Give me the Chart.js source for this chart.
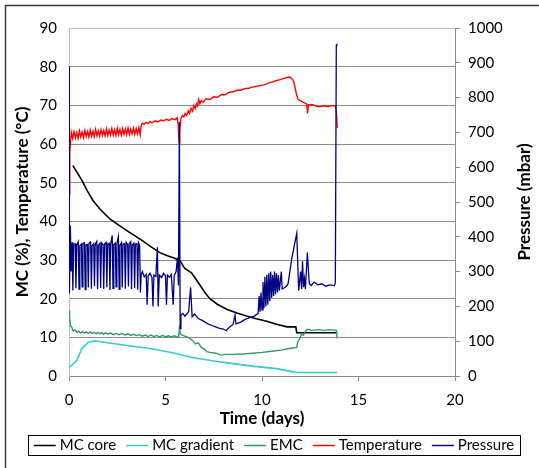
<!DOCTYPE html>
<html>
<head>
<meta charset="utf-8">
<script src="https://cdn.jsdelivr.net/npm/chart.js@4.4.0/dist/chart.umd.min.js"></script>
<style>
  html, body { margin: 0; padding: 0; background: #fff; overflow: hidden; }
  #wrap { position: relative; width: 539px; height: 468px; }
</style>
</head>
<body>
<div id="wrap"><canvas id="chart" width="539" height="468"></canvas></div>
<script>
// [day, value] pairs, read per series
const mcCore = [[0.2,54.4],[0.45,52.4],[0.67,50.6],[0.95,47.9],[1.24,45.4],[1.6,43.2],[2.1,40.7],[2.5,39.3],
  [3.0,37.6],[3.4,36.3],[3.8,35.0],[4.2,33.6],[4.7,31.9],[5.1,31.1],[5.4,30.6],[5.74,29.9],[5.9,28.6],
  [6.0,27.8],[6.25,27.0],[6.35,26.7],[6.55,25.2],[6.8,23.4],[7.05,21.5],[7.3,20.0],[7.7,18.5],[8.2,17.2],
  [8.7,16.3],[9.2,15.5],[9.7,14.8],[10.2,14.2],[10.75,13.4],[11.3,12.7],[11.75,12.7],[11.8,11.2],
  [13.0,11.2],[13.9,11.2]];

const mcGradient = [[0.0,2.2],[0.15,2.8],[0.4,4.0],[0.67,7.1],[1.0,8.7],[1.35,9.1],[2.0,8.6],[3.0,7.9],
  [4.2,7.1],[5.3,6.1],[6.4,4.8],[7.5,3.9],[8.5,3.2],[9.6,2.5],[10.75,1.9],[11.5,1.2],[11.8,0.9],[12.5,0.9],[13.9,0.9]];

const emc = [[0,17.0],[0.03,15.5],[0.08,13.0],[0.15,12.5],[0.22,11.6],[0.3,11.9],[0.4,11.3],[0.5,11.6],
  [0.6,11.1],[0.7,11.5],[0.8,11.1],[0.9,11.4],[1.0,11.0],[1.1,11.4],[1.2,11.0],[1.3,11.3],[1.4,10.9],
  [1.5,11.3],[1.6,10.9],[1.7,11.2],[1.8,10.8],[1.9,11.2],[2.0,10.8],[2.15,11.1],[2.3,10.7],[2.45,11.0],
  [2.6,10.7],[2.75,11.0],[2.9,10.6],[3.05,10.9],[3.2,10.5],[3.35,10.8],[3.5,10.5],[3.65,10.7],[3.8,10.3],
  [3.95,10.6],[4.1,10.2],[4.25,10.6],[4.4,10.2],[4.55,10.5],[4.7,10.1],[4.85,10.5],[5.0,10.1],[5.15,10.4],
  [5.3,10.1],[5.45,10.4],[5.6,10.1],[5.68,10.2],[5.72,12.3],[5.78,10.8],[6.0,10.3],[6.2,9.9],[6.4,9.2],
  [6.55,8.3],[6.7,8.6],[6.85,7.4],[7.0,7.0],[7.15,6.3],[7.3,6.1],[7.6,5.9],[7.9,5.4],[8.1,5.6],[8.5,5.6],
  [9.0,5.7],[9.5,5.9],[10.0,6.1],[10.5,6.4],[11.0,6.7],[11.4,7.1],[11.7,7.3],[11.8,7.4],[11.85,8.8],
  [11.95,9.6],[12.05,10.8],[12.15,10.6],[12.25,11.6],[12.35,12.1],[12.6,11.8],[12.9,12.0],[13.2,11.8],
  [13.5,12.0],[13.85,11.8],[13.9,9.7]];

const temperature = [[0,47.0],[0.04,58.0],[0.12,63.0],[0.19,61.4],[0.26,63.2],[0.33,61.6],[0.40,63.0],
  [0.47,61.5],[0.54,63.4],[0.61,61.8],[0.68,63.1],[0.75,61.7],[0.82,63.5],[0.89,61.9],[0.96,63.2],
  [1.03,61.8],[1.10,63.6],[1.17,62.0],[1.24,63.3],[1.31,61.9],[1.38,63.8],[1.45,62.1],[1.52,63.4],
  [1.59,62.0],[1.66,63.7],[1.73,62.2],[1.80,63.5],[1.87,62.1],[1.94,63.9],[2.01,62.2],[2.08,63.6],
  [2.15,62.3],[2.22,64.0],[2.29,62.3],[2.36,63.7],[2.43,62.2],[2.50,64.1],[2.57,62.4],[2.64,63.8],
  [2.71,62.3],[2.78,64.0],[2.85,62.5],[2.92,63.9],[2.99,62.4],[3.06,64.2],[3.13,62.5],[3.20,63.9],
  [3.27,62.6],[3.34,64.1],[3.41,62.5],[3.48,64.0],[3.55,62.6],[3.62,64.2],[3.69,62.4],
  [3.74,64.8],[3.8,65.4],[3.9,65.1],[4.0,65.6],[4.1,65.3],[4.2,65.8],[4.3,65.5],[4.45,66.0],[4.6,65.7],
  [4.75,66.2],[4.9,66.0],[5.05,66.4],[5.2,66.1],[5.35,66.6],[5.5,66.3],[5.6,66.8],[5.66,65.0],[5.7,60.3],
  [5.74,63.5],[5.8,66.6],[5.88,67.4],[5.95,67.0],[6.02,67.9],[6.1,67.4],[6.18,68.6],[6.25,67.9],
  [6.32,69.2],[6.4,68.5],[6.47,69.9],[6.54,69.2],[6.6,70.4],[6.66,69.8],[6.72,71.5],[6.78,70.4],
  [6.85,71.2],[6.95,70.8],[7.1,71.7],[7.3,71.5],[7.5,72.2],[7.7,72.1],[7.9,72.8],[8.1,72.7],[8.3,73.4],
  [8.5,73.5],[8.7,73.9],[8.9,73.9],[9.1,74.3],[9.3,74.4],[9.5,74.7],[9.7,74.9],[9.9,75.1],[10.1,75.3],
  [10.3,75.7],[10.5,76.0],[10.7,76.3],[10.9,76.6],[11.1,76.9],[11.3,77.2],[11.45,77.3],[11.55,76.9],
  [11.65,76.1],[11.72,74.4],[11.8,72.6],[11.86,71.6],[11.95,71.3],[12.1,70.9],[12.25,70.5],[12.32,70.3],
  [12.36,67.9],[12.4,70.1],[12.6,70.2],[12.8,69.8],[13.0,69.6],[13.2,69.9],[13.4,69.7],[13.6,69.9],
  [13.8,69.9],[13.85,68.5],[13.9,64.2]];

const pressure = [[0,890],[0.02,237],[0.07,432],[0.11,300],
  [0.16,384],[0.20,246],[0.24,378],[0.32,380],[0.36,252],[0.40,376],[0.48,386],[0.52,250],[0.56,374],
  [0.64,379],[0.68,256],[0.72,381],[0.80,383],[0.84,248],[0.88,377],[0.96,378],[1.00,254],[1.04,382],
  [1.12,385],[1.16,251],[1.20,375],[1.28,380],[1.32,258],[1.36,379],[1.44,387],[1.48,249],[1.52,376],
  [1.60,381],[1.64,253],[1.68,383],[1.76,378],[1.80,250],[1.84,380],[1.92,384],[1.96,255],[2.00,377],
  [2.08,381],[2.12,247],[2.16,379],[2.24,404],[2.28,252],[2.32,378],[2.40,382],[2.44,256],[2.48,380],
  [2.56,401],[2.60,249],[2.64,376],[2.72,383],[2.76,254],[2.80,379],[2.88,380],[2.92,251],[2.96,384],
  [3.04,378],[3.08,257],[3.12,381],[3.20,386],[3.24,250],[3.28,377],[3.36,382],[3.40,253],[3.44,379],
  [3.52,380],[3.56,248],[3.60,383],[3.66,375],[3.70,240],
  [3.74,292],[3.8,300],[3.9,285],[4.0,292],[4.05,205],[4.1,288],[4.2,295],[4.3,283],[4.35,200],[4.4,290],
  [4.5,286],[4.58,370],[4.62,200],[4.68,290],[4.8,283],[4.9,295],[5.0,288],[5.05,205],[5.1,290],[5.2,284],
  [5.3,292],[5.4,205],[5.45,288],[5.55,300],[5.62,340],[5.67,260],[5.72,730],[5.76,136],[5.8,175],
  [5.9,180],[6.0,172],[6.1,178],[6.2,185],[6.3,255],[6.38,170],[6.5,178],[6.7,165],[6.9,160],[7.2,150],
  [7.5,143],[7.8,137],[8.0,135],[8.15,130],[8.3,140],[8.5,148],[8.6,175],[8.65,150],[8.9,155],[9.1,162],
  [9.35,168],[9.6,172],[9.8,180],[9.85,230],[9.9,185],[9.95,240],[10.0,190],[10.05,270],[10.1,195],
  [10.15,285],[10.2,200],[10.25,290],[10.3,205],[10.35,295],[10.4,215],[10.45,300],[10.5,225],[10.55,290],
  [10.6,230],[10.65,300],[10.7,235],[10.75,295],[10.8,240],[10.85,290],[10.9,245],[11.0,300],[11.05,250],
  [11.2,255],[11.3,260],[11.35,265],[11.55,340],[11.8,410],[11.9,245],[12.0,300],[12.05,250],[12.1,330],
  [12.15,255],[12.2,280],[12.25,250],[12.35,355],[12.45,265],[12.55,260],[12.7,270],[12.9,262],[13.1,265],
  [13.3,258],[13.5,262],[13.75,260],[13.8,268],[13.85,950],[13.88,955]];

const xTicks = [0, 5, 10, 15, 20];

const FONT = 'Lato, "Liberation Sans", sans-serif';
Chart.defaults.font.family = FONT;
Chart.defaults.color = '#000';

const toXY = arr => arr.map(p => ({ x: p[0], y: p[1] }));

function line(label, data, color, axis, order, width) {
  return {
    label: label, data: toXY(data), yAxisID: axis, order: order,
    borderColor: color, backgroundColor: color, borderWidth: width,
    pointRadius: 0, tension: 0, fill: false
  };
}

// border of the chart area (left + top only)
const frame = {
  id: 'frame',
  beforeDraw(chart) {
    const ctx = chart.ctx;
    ctx.save();
    ctx.fillStyle = '#fff';
    ctx.fillRect(0, 0, chart.width, chart.height);
    ctx.strokeStyle = '#3a3a3a';
    ctx.lineWidth = 1.5;
    ctx.beginPath();
    ctx.moveTo(5.5, chart.height + 2);
    ctx.lineTo(5.5, 5.5);
    ctx.lineTo(chart.width + 2, 5.5);
    ctx.stroke();
    ctx.restore();
  }
};

// right axis title (rotated bottom-to-top) and the boxed legend
const extras = {
  id: 'extras',
  afterDraw(chart) {
    const ctx = chart.ctx;
    const area = chart.chartArea;
    ctx.save();
    ctx.fillStyle = '#000';
    ctx.font = 'bold 17px ' + FONT;
    ctx.textAlign = 'center';
    ctx.textBaseline = 'middle';
    ctx.translate(525, (area.top + area.bottom) / 2);
    ctx.rotate(-Math.PI / 2);
    ctx.fillText('Pressure (mbar)', 0, 0);
    ctx.restore();

    // legend
    ctx.save();
    ctx.font = '15px ' + FONT;
    const sample = 22, gapIn = 4, gapOut = 10;
    const items = chart.data.datasets.map(ds => ({
      label: ds.label, color: ds.borderColor, w: ctx.measureText(ds.label).width
    }));
    let total = 0;
    items.forEach((it, i) => { total += sample + gapIn + it.w + (i ? gapOut : 0); });
    const boxL = 28, boxR = 520, boxT = 435, boxB = 455;
    ctx.strokeStyle = '#000';
    ctx.lineWidth = 1;
    ctx.strokeRect(boxL + 0.5, boxT + 0.5, boxR - boxL, boxB - boxT);
    let x = (boxL + boxR) / 2 - total / 2;
    const cy = (boxT + boxB) / 2 + 0.5;
    ctx.textBaseline = 'middle';
    ctx.textAlign = 'left';
    items.forEach((it, i) => {
      if (i) x += gapOut;
      ctx.strokeStyle = it.color;
      ctx.lineWidth = 1.5;
      ctx.beginPath();
      ctx.moveTo(x, cy);
      ctx.lineTo(x + sample, cy);
      ctx.stroke();
      x += sample + gapIn;
      ctx.fillStyle = '#000';
      ctx.fillText(it.label, x, cy);
      x += it.w;
    });
    ctx.restore();
  }
};

new Chart(document.getElementById('chart'), {
  type: 'line',
  data: {
    datasets: [
      line('MC core', mcCore, '#000000', 'y', 5, 1.6),
      line('MC gradient', mcGradient, '#33CCCC', 'y', 4, 1.6),
      line('EMC', emc, '#339966', 'y', 3, 1.4),
      line('Temperature', temperature, '#FF0000', 'y', 2, 1.4),
      line('Pressure', pressure, '#000080', 'y2', 1, 1.3)
    ]
  },
  options: {
    responsive: false,
    animation: false,
    devicePixelRatio: 1,
    layout: { padding: { top: 28, left: 0, right: 0, bottom: 0 } },
    plugins: { legend: { display: false }, tooltip: { enabled: false } },
    scales: {
      x: {
        type: 'linear', min: 0, max: 20,
        afterBuildTicks: s => { s.ticks = xTicks.map(v => ({ value: v })); },
        ticks: { padding: 10, font: { size: 15 }, callback: v => String(v) },
        grid: { drawOnChartArea: false, drawTicks: true, tickLength: 5, color: '#8c8c8c' },
        border: { display: true, color: '#8c8c8c' },
        title: { display: true, text: 'Time (days)', font: { size: 17, weight: 'bold' }, padding: { top: 0, bottom: 39 } },
        afterFit: s => { s.height = 92; }
      },
      y: {
        position: 'left', min: 0, max: 90,
        ticks: { stepSize: 10, padding: 12, font: { size: 15 }, callback: v => String(v) },
        grid: {
          drawTicks: false,
          color: c => (c.tick && c.tick.value === 90) ? '#bdbdbd' : '#8c8c8c'
        },
        border: { display: true, color: '#bdbdbd' },
        title: { display: true, text: 'MC (%), Temperature (°C)', font: { size: 17, weight: 'bold' }, padding: { top: 12, bottom: 0 } },
        afterFit: s => { s.width = 69; }
      },
      y2: {
        position: 'right', min: 0, max: 1000,
        ticks: { stepSize: 100, padding: 8, font: { size: 15 }, callback: v => String(v) },
        grid: { drawOnChartArea: false, drawTicks: true, tickLength: 5, color: '#8c8c8c' },
        border: { display: true, color: '#8c8c8c' },
        afterFit: s => { s.width = 84; }
      }
    }
  },
  plugins: [frame, extras]
});
</script>
</body>
</html>
